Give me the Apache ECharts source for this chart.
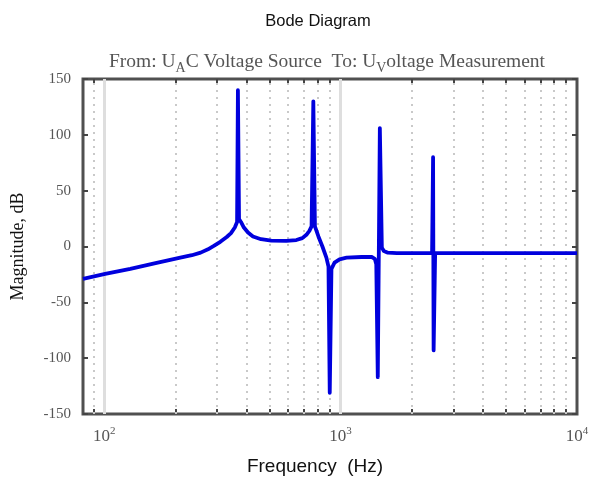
<!DOCTYPE html>
<html>
<head>
<meta charset="utf-8">
<script src="https://cdn.jsdelivr.net/npm/echarts@6/dist/echarts.min.js"></script>
<style>
  html, body { margin: 0; padding: 0; background: #fff; }
  #chart { width: 591px; height: 477px; }
</style>
</head>
<body>
<div id="chart"></div>
<script>
// frequency (Hz) and magnitude (dB)
var freqHz = [81.4, 101, 129, 165, 210, 235, 256, 275, 291, 310, 330, 344, 357, 365, 368, 372, 379, 390, 406, 426, 461, 509,
  589, 650, 689, 717, 738, 754, 767, 779, 806, 838, 871, 889, 900, 915, 943, 990, 1060, 1227, 1355, 1396, 1416,
  1437, 1466, 1495, 1524, 1585, 1730, 2438, 2462, 2475, 2512, 10000];
var magDb = [-29, -24.6, -20, -14.8, -10, -7.8, -5.5, -2.5, 0.5, 4.2, 8.5, 12, 17, 22, 140, 24.6, 22, 17, 12.5, 9, 6.5, 5.2,
  5, 5.8, 7.5, 10.5, 14, 18, 130, 18, 9, 0, -10, -18, -131, -20, -14.5, -11.5, -10, -9.4, -9.4, -11, -16,
  -117, 106, -1, -4, -5.5, -6, -6, 80, -93, -6, -6];

var majorFreq = [100, 1000];
var minorFreq = [90, 200, 300, 400, 500, 600, 700, 800, 900, 2000, 3000, 4000, 5000, 6000, 7000, 8000, 9000];
var yTicks = [-150, -100, -50, 0, 50, 100, 150];

var chartDom = document.getElementById("chart");
var myChart = echarts.init(chartDom);

var serif = "Liberation Serif";
var sans = "Liberation Sans";

var gridLines = [];
majorFreq.forEach(function (f) {
  gridLines.push({ xAxis: f, lineStyle: { color: "#dedede", width: 3, type: "solid" } });
});
minorFreq.forEach(function (f) {
  gridLines.push({ xAxis: f, lineStyle: { color: "#c9c9c9", width: 2, type: [2, 5] } });
});

var allTicks = majorFreq.concat(minorFreq);

function powLabel(value) {
  var e = Math.round(Math.log10(value));
  if (Math.abs(Math.pow(10, e) - value) > 1e-6 * value) return "";
  return "10{sup|" + e + "}";
}

var tickStyle = { color: "#444", width: 2 };

var xBase = {
  type: "log",
  logBase: 10,
  min: 81.4,
  max: 10000,
  axisLine: { show: false, onZero: false },
  splitLine: { show: false },
  minorTick: { show: false },
  axisTick: {
    show: true,
    inside: true,
    length: 5,
    customValues: allTicks,
    lineStyle: tickStyle,
  },
};

var option = {
  backgroundColor: "#fff",
  animation: false,
  title: [
    {
      text: "Bode Diagram",
      left: 313,
      top: 8,
      textAlign: "center",
      textStyle: { fontFamily: sans, fontSize: 16.5, fontWeight: "normal", color: "#111" },
    },
    {
      text: "From: U{sub|A}C Voltage Source  To: U{sub|V}oltage Measurement",
      left: 322,
      top: 44,
      textAlign: "center",
      textStyle: {
        fontFamily: serif,
        fontSize: 19.5,
        fontWeight: "normal",
        color: "#555",
        rich: {
          sub: { fontFamily: serif, fontSize: 14, color: "#555", padding: [12, 0, 0, 0] },
        },
      },
    },
  ],
  grid: {
    left: 83,
    right: 14,
    top: 79,
    bottom: 63,
    outerBoundsMode: "none",
    containLabel: false,
    show: true,
    borderColor: "#505050",
    borderWidth: 3,
  },
  xAxis: [
    Object.assign({}, xBase, {
      position: "bottom",
      name: "Frequency  (Hz)",
      nameLocation: "middle",
      nameGap: 43,
      nameTextStyle: { fontFamily: sans, fontSize: 19, color: "#111", padding: [0, 30, 0, 0] },
      axisLabel: {
        show: true,
        margin: 12,
        customValues: [100, 1000, 10000],
        formatter: powLabel,
        fontFamily: serif,
        fontSize: 17,
        color: "#555",
        rich: {
          sup: { fontFamily: serif, fontSize: 11, color: "#555", padding: [0, 0, 11, 0] },
        },
      },
    }),
    Object.assign({}, xBase, {
      position: "top",
      axisLabel: { show: false },
    }),
  ],
  yAxis: [
    {
      type: "value",
      min: -150,
      max: 150,
      interval: 50,
      position: "left",
      name: "Magnitude, dB",
      nameLocation: "middle",
      nameGap: 56,
      nameTextStyle: { fontFamily: serif, fontSize: 18, color: "#111" },
      axisLine: { show: false, onZero: false },
      splitLine: { show: false },
      axisTick: { show: true, inside: true, length: 5, lineStyle: tickStyle },
      axisLabel: {
        margin: 12,
        fontFamily: serif,
        fontSize: 15,
        color: "#555",
        formatter: function (v) { return yTicks.indexOf(v) >= 0 ? String(v) : ""; },
      },
    },
    {
      type: "value",
      min: -150,
      max: 150,
      interval: 50,
      position: "right",
      axisLine: { show: false, onZero: false },
      splitLine: { show: false },
      axisTick: { show: true, inside: true, length: 5, lineStyle: tickStyle },
      axisLabel: { show: false },
    },
  ],
  series: [
    {
      name: "grid",
      type: "line",
      data: [],
      z: 1,
      silent: true,
      markLine: {
        z: 1,
        silent: true,
        symbol: "none",
        label: { show: false },
        animation: false,
        data: gridLines,
      },
    },
    {
      name: "Magnitude",
      type: "line",
      z: 3,
      showSymbol: false,
      data: freqHz.map(function (f, i) { return [f, magDb[i]]; }),
      lineStyle: { color: "#0000dd", width: 3.8, join: "round" },
      itemStyle: { color: "#0000dd" },
    },
  ],
};

option && myChart.setOption(option);
</script>
</body>
</html>
